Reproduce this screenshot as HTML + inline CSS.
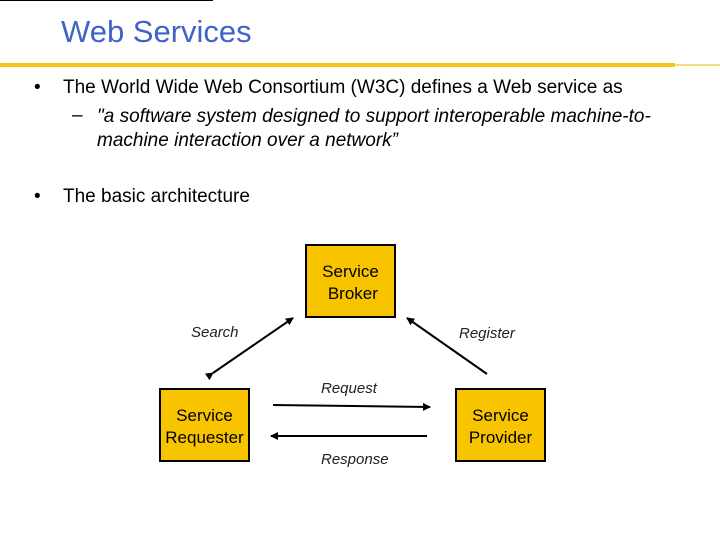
<!DOCTYPE html>
<html><head><style>
body{margin:0;width:720px;height:540px;background:#fff;position:relative;overflow:hidden;font-family:"Liberation Sans",sans-serif;}
.t{position:absolute;white-space:nowrap;}
.box{position:absolute;background:#f8c400;border:2px solid #000;box-sizing:border-box;font-size:17px;text-align:center;line-height:22px;}
</style></head><body>
<div class="t" style="left:61px;top:14px;font-size:31px;color:#3f63c8;">Web Services</div>
<div style="position:absolute;left:0;top:63px;width:675px;height:4px;background:#f5c518;"></div>
<div style="position:absolute;left:675px;top:64px;width:45px;height:2px;background:#f7dc80;"></div>
<div class="t" style="left:34px;top:77px;font-size:19px;">•</div>
<div class="t" style="left:63px;top:77px;font-size:19px;">The World Wide Web Consortium (W3C) defines a Web service as</div>
<div class="t" style="left:72px;top:105px;font-size:19px;">–</div>
<div class="t" style="left:97px;top:105px;font-size:19px;font-style:italic;line-height:24px;">"a software system designed to support interoperable machine-to-<br>machine interaction over a network”</div>
<div class="t" style="left:34px;top:186px;font-size:19px;">•</div>
<div class="t" style="left:63px;top:186px;font-size:19px;">The basic architecture</div>
<div class="box" style="left:305px;top:244px;width:91px;height:74px;padding-top:15px;">Service<br>&nbsp;Broker</div>
<div class="box" style="left:159px;top:388px;width:91px;height:74px;padding-top:15px;">Service<br>Requester</div>
<div class="box" style="left:455px;top:388px;width:91px;height:74px;padding-top:15px;">Service<br>Provider</div>
<div class="t" style="left:191px;top:324px;font-size:15px;font-style:italic;color:#222;">Search</div>
<div class="t" style="left:459px;top:325px;font-size:15px;font-style:italic;color:#222;">Register</div>
<div class="t" style="left:321px;top:380px;font-size:15px;font-style:italic;color:#222;">Request</div>
<div class="t" style="left:321px;top:451px;font-size:15px;font-style:italic;color:#222;">Response</div>
<svg width="720" height="540" style="position:absolute;left:0;top:0">
<defs><marker id="a" markerWidth="8" markerHeight="8" refX="7" refY="4" orient="auto" markerUnits="userSpaceOnUse"><path d="M0,0 L8,4 L0,8 z" fill="#000"/></marker></defs>
<g stroke="#000" stroke-width="2">
<line x1="213" y1373" y2="0"/>
<line x1="213" y1="373" x2="293" y2="318" marker-start="url(#a)" marker-end="url(#a)"/>
<line x1="487" y1="374" x2="407" y2="318" marker-end="url(#a)"/>
<line x1="273" y1="405" x2="430" y2="407" marker-end="url(#a)"/>
<line x1="427" y1="436" x2="271" y2="436" marker-end="url(#a)"/>
</g></svg>
</body></html>
